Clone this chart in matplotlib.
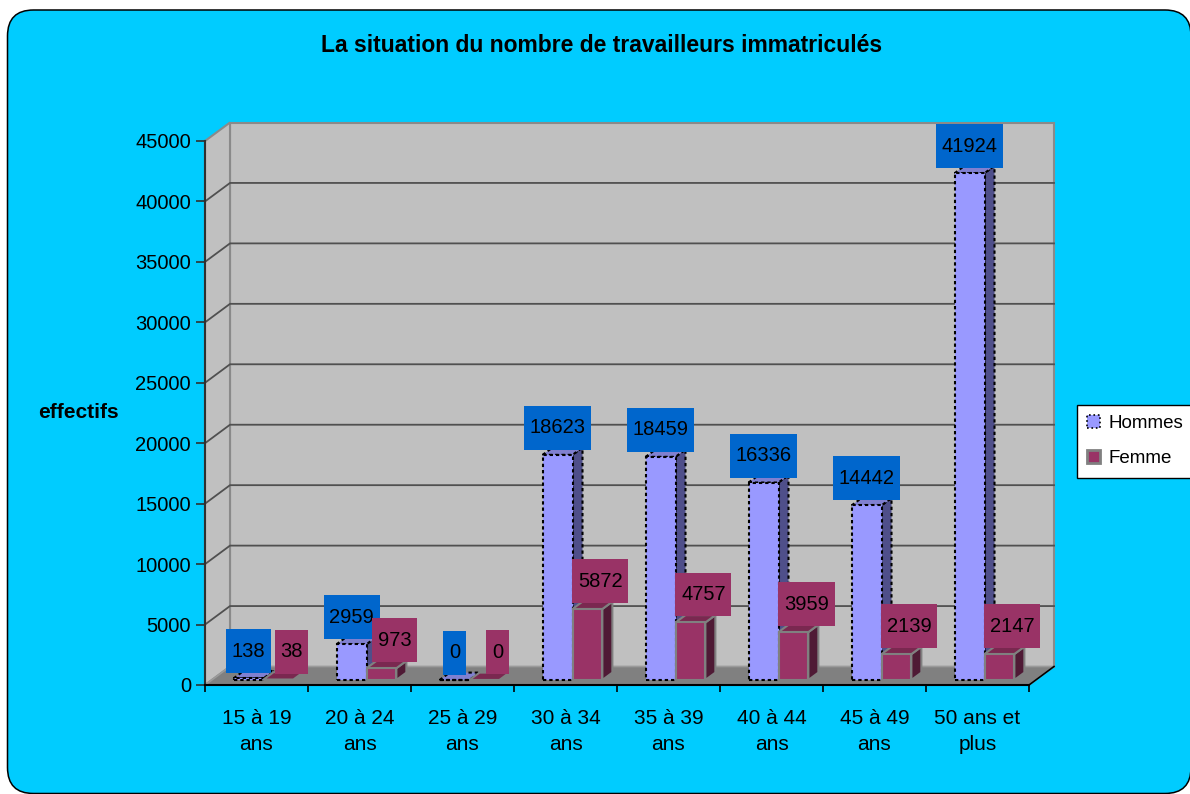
import numpy as np
import matplotlib
matplotlib.use("Agg")
import matplotlib.pyplot as plt
from matplotlib.patches import Polygon, FancyBboxPatch, Patch
from matplotlib.path import Path

# ---------------- data ----------------
categories = ["15 à 19\nans", "20 à 24\nans", "25 à 29\nans", "30 à 34\nans",
              "35 à 39\nans", "40 à 44\nans", "45 à 49\nans", "50 ans et\nplus"]
hommes = [138, 2959, 0, 18623, 18459, 16336, 14442, 41924]
femme = [38, 973, 0, 5872, 4757, 3959, 2139, 2147]
series_names = ["Hommes", "Femme"]
y_ticks = [0, 5000, 10000, 15000, 20000, 25000, 30000, 35000, 40000, 45000]
title = "La situation du nombre de travailleurs immatriculés"
y_label = "effectifs"

# ---------------- style ----------------
plt.rcParams['font.family'] = ['Liberation Sans', 'DejaVu Sans']
W, H = 1190, 794
FS = 14.5

fig = plt.figure(figsize=(W / 100, H / 100), dpi=100)
fig.patch.set_facecolor('white')

# rounded cyan background (pixel coordinates)
bg = FancyBboxPatch((7.5, 0.5), 1191 - 7.5, 784 - 0.5,
                    boxstyle="round,pad=0,rounding_size=26",
                    transform=None, facecolor='#00CCFF', edgecolor='black',
                    linewidth=1.1, zorder=0)
fig.add_artist(bg)

n = len(categories)
ymax = y_ticks[-1]
ax_l, ax_b, ax_w, ax_h = 205, H - 685, 824, 544
ax = fig.add_axes([ax_l / W, ax_b / H, ax_w / W, ax_h / H])
ax.set_xlim(-0.5, n - 0.5)
ax.set_ylim(0, ymax)
ax.patch.set_visible(False)

xu = n / ax_w          # data units per pixel (x)
yu = ymax / ax_h       # data units per pixel (y)
DX, DY = 25 * xu, 18.5 * yu     # wall depth
FX, FY = 7 * xu, 5 * yu         # bar front offset into depth
BX, BY = 10 * xu, 7.4 * yu      # bar depth
bw = 0.29

# walls
x0, x1 = -0.5, n - 0.5
wall_kw = dict(facecolor='#C0C0C0', edgecolor='#8A8A8A', linewidth=1.5,
               clip_on=False, zorder=1)
ax.add_patch(Polygon([(x0 + DX, DY), (x1 + DX, DY), (x1 + DX, ymax + DY),
                      (x0 + DX, ymax + DY)], closed=True, **wall_kw))
ax.add_patch(Polygon([(x0, 0), (x0 + DX, DY), (x0 + DX, ymax + DY),
                      (x0, ymax)], closed=True, **wall_kw))
for t in y_ticks[1:-1]:
    ax.plot([x0, x0 + DX, x1 + DX], [t, t + DY, t + DY], color='#505050',
            linewidth=1.3, clip_on=False, zorder=1.5)
# floor
ax.add_patch(Polygon([(x0, 0), (x1, 0), (x1 + DX, DY), (x0 + DX, DY)],
                     closed=True, facecolor='#808080', edgecolor='#9A9A9A',
                     linewidth=1.2, clip_on=False, zorder=2))
ax.plot([x1, x1 + DX], [0, DY], color='black', linewidth=1.2,
        clip_on=False, zorder=2.1)


def bar3d(lefts, vals, front, side, top, edge, ls, lw, z):
    for xl, v in zip(lefts, vals):
        yb = FY
        yt = v + FY
        ax.add_patch(Polygon([(xl + bw, yb), (xl + bw + BX, yb + BY),
                              (xl + bw + BX, yt + BY), (xl + bw, yt)],
                             closed=True, facecolor=side, edgecolor=edge,
                             linestyle=ls, linewidth=lw, zorder=z,
                             clip_on=False))
        ax.add_patch(Polygon([(xl, yt), (xl + bw, yt), (xl + bw + BX, yt + BY),
                              (xl + BX, yt + BY)],
                             closed=True, facecolor=top, edgecolor=edge,
                             linestyle=ls, linewidth=lw, zorder=z,
                             clip_on=False))
    ax.bar(lefts, vals, width=bw, bottom=FY, align='edge', color=front,
           edgecolor=edge, linestyle=ls, linewidth=lw, zorder=z + 0.1,
           clip_on=False)


xs = np.arange(n)
h_left = xs - bw + FX
f_left = xs + FX
bar3d(h_left, hommes, '#9999FF', '#4F4F8A', '#8080D0', 'black',
      (0, (1.6, 1.4)), 1.5, 3)
bar3d(f_left, femme, '#993366', '#4F1A35', '#7A2850', '#808080',
      '-', 1.5, 4)


def label_box(x0, y0, width, height, mutation_size):
    px_ = 0.28 * mutation_size
    py_ = 0.62 * mutation_size
    a, b = x0 - px_, y0 - py_
    c, d = x0 + width + px_, y0 + height + py_
    return Path([(a, b), (c, b), (c, d), (a, d), (a, b)],
                [Path.MOVETO, Path.LINETO, Path.LINETO, Path.LINETO,
                 Path.CLOSEPOLY])


for xl, v in zip(h_left, hommes):
    ax.annotate(str(v), xy=(xl + bw / 2, v + FY), xytext=(0, 27),
                textcoords='offset pixels', ha='center', va='center',
                fontsize=FS, color='black', zorder=10, annotation_clip=False,
                bbox=dict(boxstyle=label_box, facecolor='#0066CC',
                          edgecolor='none'))
for xl, v in zip(f_left, femme):
    ax.annotate(str(v), xy=(xl + bw / 2, v + FY), xytext=(13, 28),
                textcoords='offset pixels', ha='center', va='center',
                fontsize=FS, color='black', zorder=10, annotation_clip=False,
                bbox=dict(boxstyle=label_box, facecolor='#993366',
                          edgecolor='none'))

# axes / ticks
for s in ['top', 'right']:
    ax.spines[s].set_visible(False)
ax.spines['left'].set_color('#303030')
ax.spines['left'].set_linewidth(1.5)
ax.spines['bottom'].set_color('black')
ax.spines['bottom'].set_linewidth(1.5)
ax.spines['left'].set_zorder(2.5)
ax.spines['bottom'].set_zorder(2.5)

ax.set_yticks(y_ticks)
ax.set_yticklabels([str(t) for t in y_ticks], fontsize=FS)
ax.tick_params(axis='y', direction='out', length=6.5, width=1.2,
               color='#303030', pad=3.5)
ax.set_xticks(xs)
ax.set_xticklabels(categories, fontsize=15, linespacing=1.5)
ax.tick_params(axis='x', which='major', length=0, pad=17)
ax.set_xticks(np.arange(-0.5, n, 1.0), minor=True)
ax.tick_params(axis='x', which='minor', direction='out', length=5,
               width=1.2, color='black')

ax.set_ylabel(y_label, rotation=0, fontsize=15, fontweight='bold',
              ha='center', va='center')
ax.yaxis.set_label_coords(-0.154, 0.5)

fig.text(602 / W, (H - 52) / H, title, ha='center', va='baseline',
         fontsize=16.5, fontweight='bold')

handles = [Patch(facecolor='#9999FF', edgecolor='black', linestyle=':',
                 linewidth=1.2),
           Patch(facecolor='#993366', edgecolor='#808080', linewidth=2)]
leg = fig.legend(handles=handles, labels=series_names, loc='upper left',
                 bbox_to_anchor=(1077 / W, 1 - 405 / H), frameon=True,
                 fancybox=False, edgecolor='black', framealpha=1,
                 fontsize=13.5, handlelength=0.7, handleheight=0.7,
                 handletextpad=0.45, borderpad=0.55, labelspacing=0.95,
                 borderaxespad=0)
leg.get_frame().set_linewidth(1)

fig.savefig('out.png', dpi=100)
